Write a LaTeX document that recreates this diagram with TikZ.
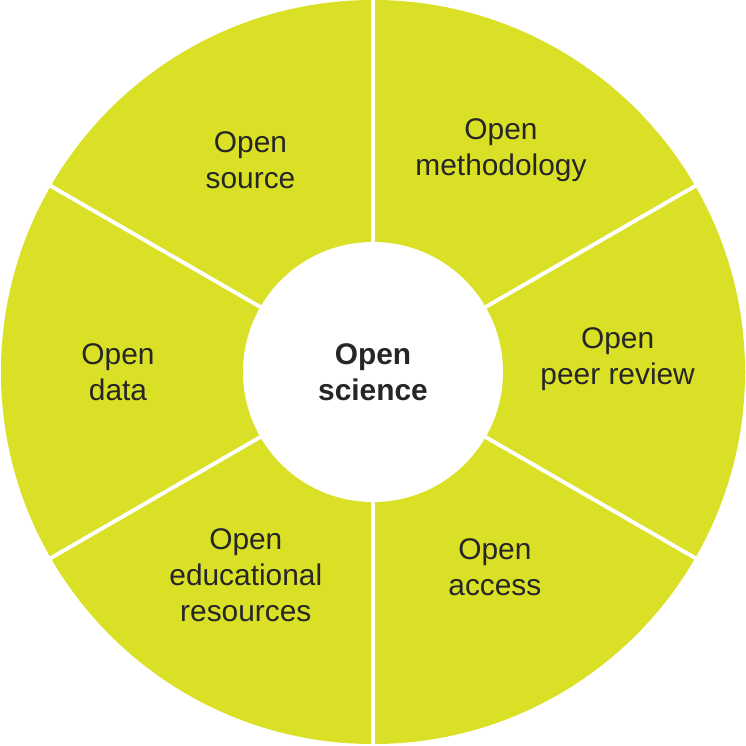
\documentclass[tikz,border=0pt]{standalone}
\usepackage{fontspec}
\setmainfont{Liberation Sans}
\definecolor{limegreen}{HTML}{DAE026}
\tikzset{sectorlabel/.style={align=center, font=\fontsize{17}{20.5}\selectfont, text=black!85}}
\begin{document}
\begin{tikzpicture}[x=0.02cm, y=0.02cm]
        \useasboundingbox (-373,-373) rectangle (373,372);
        % ring and separators
        \fill [limegreen] (0,0) circle (372);
        \foreach \a in {90,30,-30,-90,210,150}
            \draw [white, line width=2.2pt] (\a:100) -- (\a:375);
        \fill [white] (0,0) circle (130);
        % labels
        \node (src) [sectorlabel] at (120:245) {Open\\source};
        \node (meth) [sectorlabel] at (60:256) {Open\\methodology};
        \node (peer) [sectorlabel] at (3:245) {Open\\peer review};
        \node (acc) [sectorlabel] at (-58:230) {Open\\access};
        \node (edu) [sectorlabel] at (-122:240) {Open\\educational\\resources};
        \node (data) [sectorlabel] at (180:255) {Open\\data};
        \node (core) [sectorlabel, font=\fontsize{17}{20.5}\selectfont\bfseries] at (0,0) {Open\\science};
    \end{tikzpicture}
\end{document}
